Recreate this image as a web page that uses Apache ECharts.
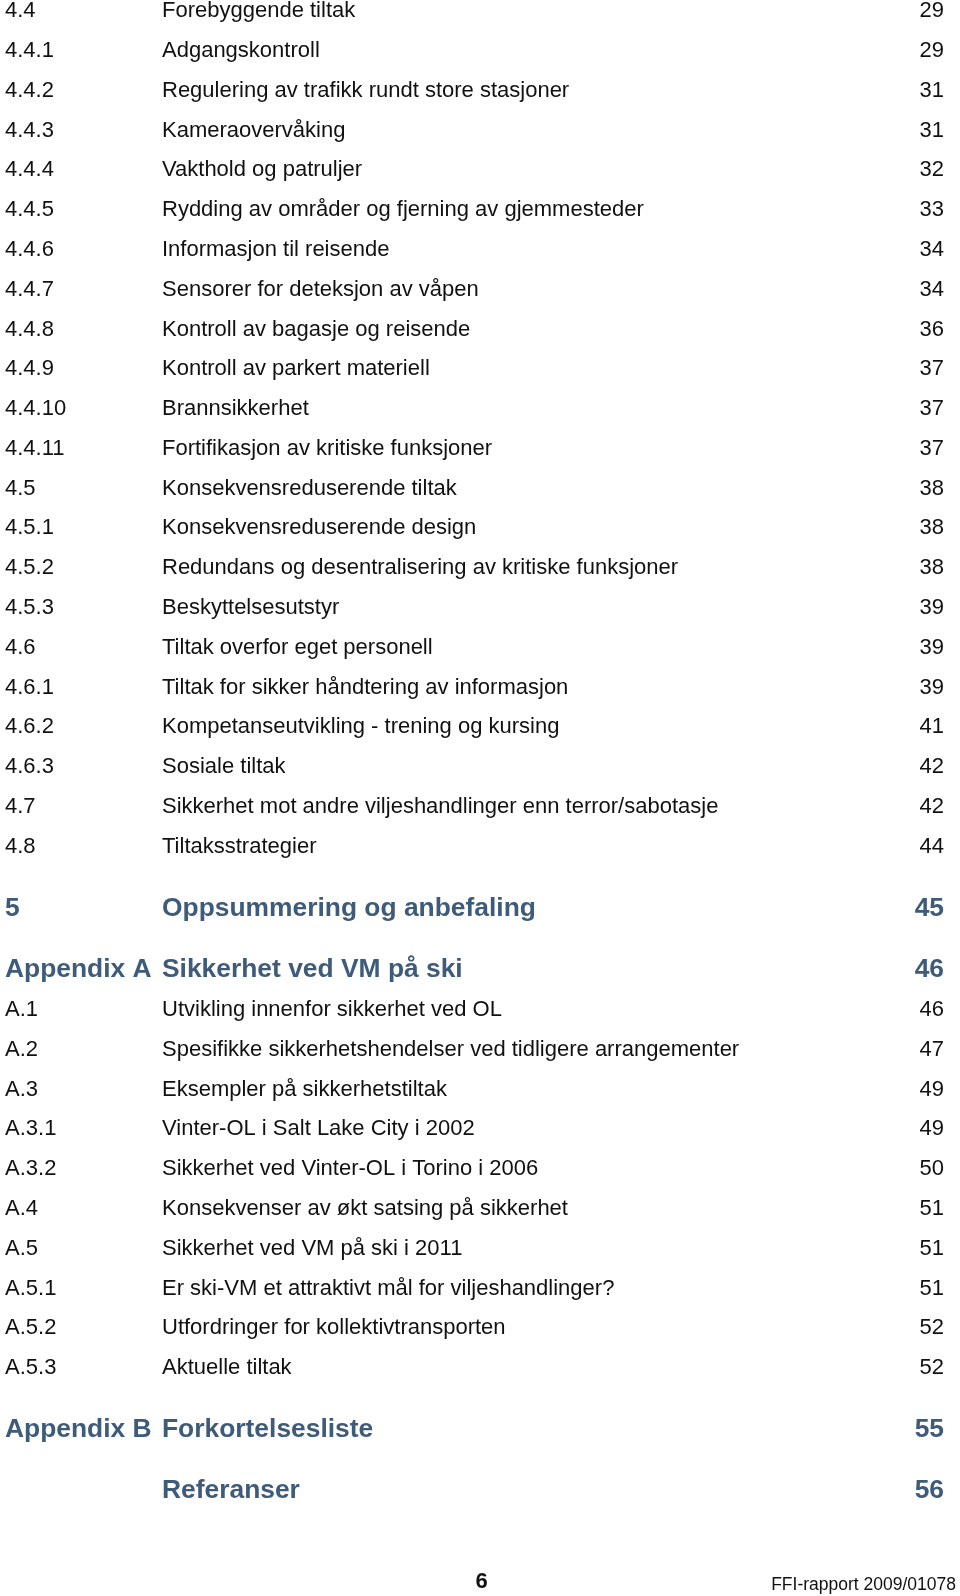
<!DOCTYPE html>
<html>
<head>
<meta charset="utf-8">
<script src="https://cdn.jsdelivr.net/npm/echarts@6/dist/echarts.min.js"></script>
<style>
html,body{margin:0;padding:0;background:#fff;}
#chart{width:960px;height:1596px;}
</style>
</head>
<body>
<div id="chart"></div>
<script>
const sectionNumbers = ['4.4','4.4.1','4.4.2','4.4.3','4.4.4','4.4.5','4.4.6','4.4.7','4.4.8','4.4.9','4.4.10','4.4.11','4.5','4.5.1','4.5.2','4.5.3','4.6','4.6.1','4.6.2','4.6.3','4.7','4.8','5','Appendix A','A.1','A.2','A.3','A.3.1','A.3.2','A.4','A.5','A.5.1','A.5.2','A.5.3','Appendix B',''];
const sectionTitles = [
  'Forebyggende tiltak',
  'Adgangskontroll',
  'Regulering av trafikk rundt store stasjoner',
  'Kameraovervåking',
  'Vakthold og patruljer',
  'Rydding av områder og fjerning av gjemmesteder',
  'Informasjon til reisende',
  'Sensorer for deteksjon av våpen',
  'Kontroll av bagasje og reisende',
  'Kontroll av parkert materiell',
  'Brannsikkerhet',
  'Fortifikasjon av kritiske funksjoner',
  'Konsekvensreduserende tiltak',
  'Konsekvensreduserende design',
  'Redundans og desentralisering av kritiske funksjoner',
  'Beskyttelsesutstyr',
  'Tiltak overfor eget personell',
  'Tiltak for sikker håndtering av informasjon',
  'Kompetanseutvikling - trening og kursing',
  'Sosiale tiltak',
  'Sikkerhet mot andre viljeshandlinger enn terror/sabotasje',
  'Tiltaksstrategier',
  'Oppsummering og anbefaling',
  'Sikkerhet ved VM på ski',
  'Utvikling innenfor sikkerhet ved OL',
  'Spesifikke sikkerhetshendelser ved tidligere arrangementer',
  'Eksempler på sikkerhetstiltak',
  'Vinter-OL i Salt Lake City i 2002',
  'Sikkerhet ved Vinter-OL i Torino i 2006',
  'Konsekvenser av økt satsing på sikkerhet',
  'Sikkerhet ved VM på ski i 2011',
  'Er ski-VM et attraktivt mål for viljeshandlinger?',
  'Utfordringer for kollektivtransporten',
  'Aktuelle tiltak',
  'Forkortelsesliste',
  'Referanser'
];
const pageNumbers = [29,29,31,31,32,33,34,34,36,37,37,37,38,38,38,39,39,39,41,42,42,44,45,46,46,47,49,49,50,51,51,51,52,52,55,56];
const isHeading = [false,false,false,false,false,false,false,false,false,false,false,false,false,false,false,false,false,false,false,false,false,false,true,true,false,false,false,false,false,false,false,false,false,false,true,true];
const footerPage = '6';
const footerReport = 'FFI-rapport 2009/01078';

// layout (not data)
const FIRST_Y = 11.2, ROW = 39.78, GAP_TO_HEAD = 62, GAP_HEAD_HEAD = 61, GAP_HEAD_ROW = 40.5;
const X_NUM = 5, X_TITLE = 162, X_PAGE = 944;
const FONT = '"Liberation Sans", Arial, Helvetica, sans-serif';
const HEAD_COLOR = '#3f5b7a', TEXT_COLOR = '#111111';

const rowY = [];
sectionNumbers.forEach((_, i) => {
  if (i === 0) { rowY.push(FIRST_Y); return; }
  let gap = ROW;
  if (isHeading[i]) gap = isHeading[i - 1] ? GAP_HEAD_HEAD : GAP_TO_HEAD;
  else if (isHeading[i - 1]) gap = GAP_HEAD_ROW;
  rowY.push(rowY[i - 1] + gap);
});

const chart = echarts.init(document.getElementById('chart'), null, {renderer: 'canvas'});

function txt(x, y, text, head, align) {
  return {
    type: 'text',
    x: x, y: y,
    style: {
      text: text,
      fill: head ? HEAD_COLOR : TEXT_COLOR,
      font: (head ? 'bold 26.4px ' : '22px ') + FONT,
      align: align,
      verticalAlign: 'middle'
    }
  };
}

chart.setOption({
  animation: false,
  backgroundColor: '#ffffff',
  grid: {left: 0, right: 0, top: 0, bottom: 0},
  xAxis: {type: 'value', min: 0, max: 960, show: false},
  yAxis: {type: 'value', min: 0, max: 1596, inverse: true, show: false},
  series: [{
    type: 'custom',
    clip: false,
    data: sectionNumbers.map((_, i) => [i, rowY[i]]),
    renderItem: function (params, api) {
      const i = api.value(0);
      const y = api.coord([0, api.value(1)])[1];
      const xn = api.coord([X_NUM, 0])[0];
      const xt = api.coord([X_TITLE, 0])[0];
      const xp = api.coord([X_PAGE, 0])[0];
      const h = isHeading[i];
      return {
        type: 'group',
        children: [
          txt(xn, y, sectionNumbers[i], h, 'left'),
          txt(xt, y, sectionTitles[i], h, 'left'),
          txt(xp, y, String(pageNumbers[i]), h, 'right')
        ]
      };
    }
  }],
  graphic: [
    {type: 'text', x: 481.5, y: 1582, style: {text: footerPage, font: 'bold 22px ' + FONT, fill: TEXT_COLOR, align: 'center', verticalAlign: 'middle'}},
    {type: 'text', x: 956, y: 1585, style: {text: footerReport, font: '17.5px ' + FONT, fill: TEXT_COLOR, align: 'right', verticalAlign: 'middle'}}
  ]
});
</script>
</body>
</html>
